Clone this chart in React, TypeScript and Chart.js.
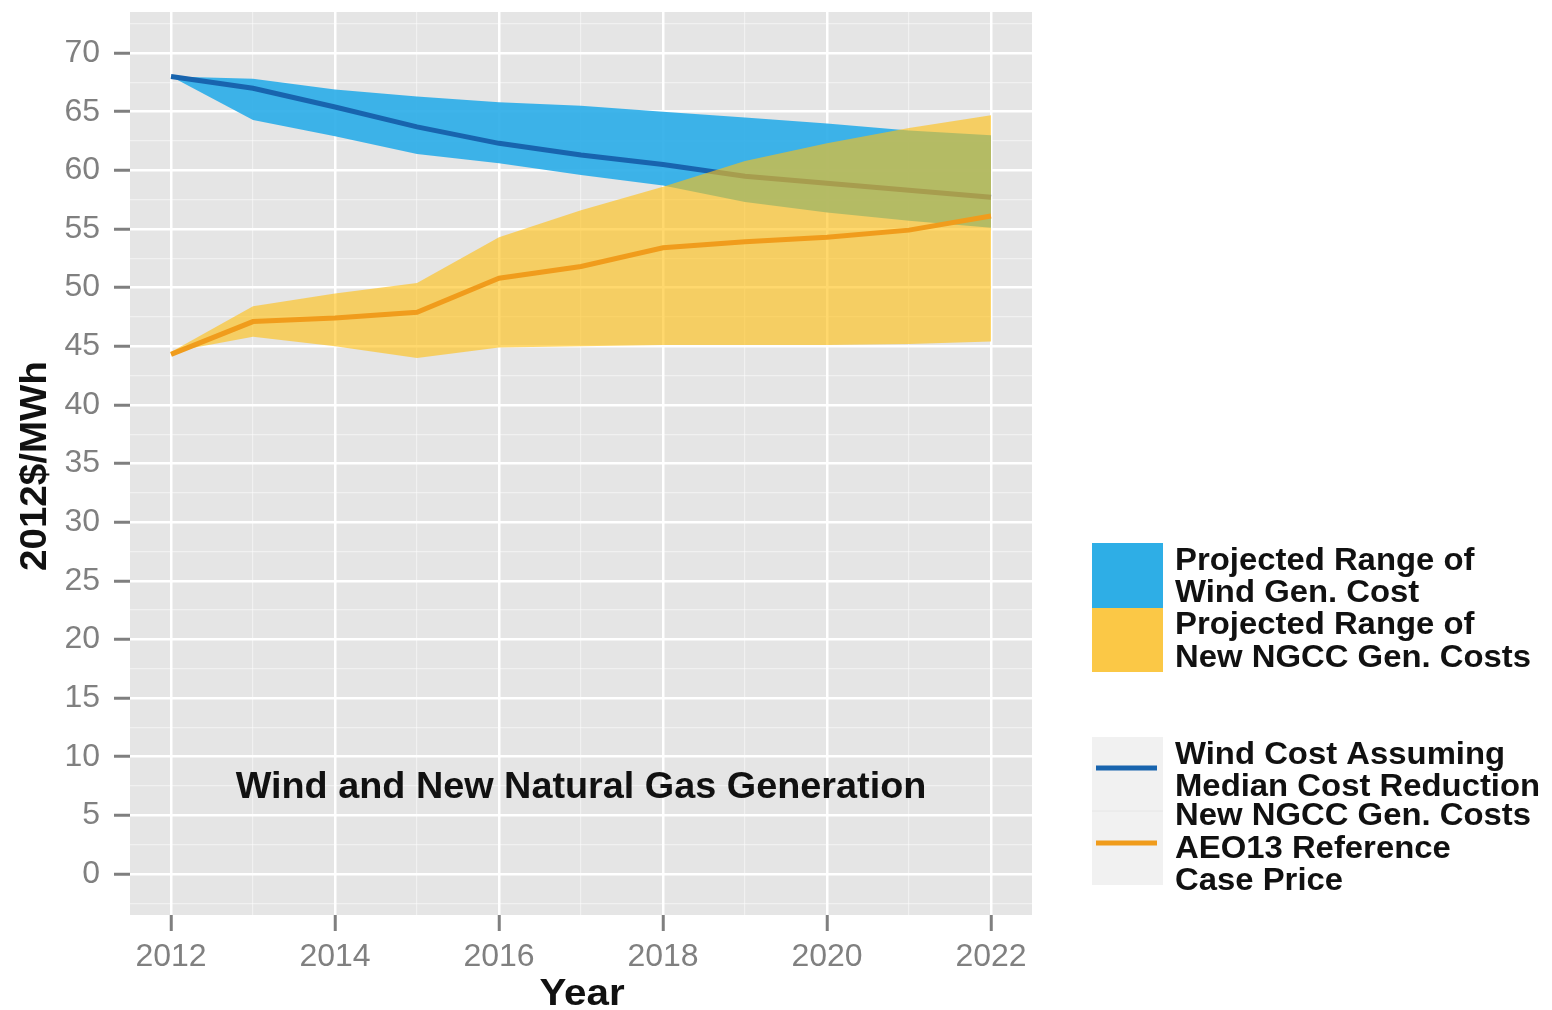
import React, { useEffect, useRef } from "react";
import { Chart, registerables } from "chart.js";

Chart.register(...registerables);

// ---- data ----
const years = [2012, 2013, 2014, 2015, 2016, 2017, 2018, 2019, 2020, 2021, 2022];
const windHigh = [68.0, 67.8, 66.9, 66.3, 65.8, 65.5, 65.0, 64.5, 64.0, 63.4, 63.0];
const windLow = [68.0, 64.3, 62.9, 61.4, 60.6, 59.6, 58.7, 57.3, 56.4, 55.7, 55.1];
const windMedian = [68.0, 67.0, 65.4, 63.7, 62.3, 61.3, 60.5, 59.5, 58.9, 58.3, 57.7];
const ngccHigh = [44.5, 48.4, 49.5, 50.4, 54.3, 56.6, 58.6, 60.8, 62.3, 63.6, 64.7];
const ngccLow = [44.5, 45.8, 45.0, 44.0, 44.9, 45.0, 45.1, 45.1, 45.1, 45.2, 45.4];
const ngccRef = [44.3, 47.1, 47.4, 47.9, 50.8, 51.8, 53.4, 53.9, 54.3, 54.9, 56.1];

const yMajorTicks = [0, 5, 10, 15, 20, 25, 30, 35, 40, 45, 50, 55, 60, 65, 70];
const yMinorTicks = [-2.5, 2.5, 7.5, 12.5, 17.5, 22.5, 27.5, 32.5, 37.5, 42.5, 47.5, 52.5, 57.5, 62.5, 67.5, 72.5];
const xMajorTicks = [2012, 2014, 2016, 2018, 2020, 2022];
const xMinorTicks = [2013, 2015, 2017, 2019, 2021];

const xTitle = "Year";
const yTitle = "2012$/MWh";
const annotationText = "Wind and New Natural Gas Generation";
const annotationX = 2017;
const annotationY = 7.3;

const rangeLegend = [
  ["Projected Range of", "Wind Gen. Cost"],
  ["Projected Range of", "New NGCC Gen. Costs"],
];
const lineLegend = [
  ["Wind Cost Assuming", "Median Cost Reduction"],
  ["New NGCC Gen. Costs", "AEO13 Reference", "Case Price"],
];

// ---- styles ----
const BLUE_BAND = "rgba(46,174,232,0.92)";
const YELLOW_BAND = "rgba(255,192,20,0.62)";
const BLUE_LINE = "#1864ae";
const ORANGE_LINE = "#f09c1c";
const PANEL = "#e5e5e5";
const FONT = '"Liberation Sans", Arial, Helvetica, sans-serif';

const pts = (arr: number[]) => years.map((x, i) => ({ x, y: arr[i] }));

function stretchedText(ctx: CanvasRenderingContext2D, text: string, x: number, y: number, sx: number) {
  ctx.save();
  ctx.translate(x, y);
  ctx.scale(sx, 1);
  ctx.fillText(text, 0, 0);
  ctx.restore();
}

export default function App() {
  const ref = useRef<HTMLCanvasElement | null>(null);

  useEffect(() => {
    if (!ref.current) return;
    const yMajorSet = new Set(yMajorTicks);
    const xMajorSet = new Set(xMajorTicks);

    const decor = {
      id: "decor",
      beforeDraw(chart: any) {
        const { ctx, chartArea: a } = chart;
        ctx.save();
        ctx.fillStyle = "#ffffff";
        ctx.fillRect(0, 0, chart.width, chart.height);
        ctx.fillStyle = PANEL;
        ctx.fillRect(a.left, a.top, a.right - a.left, a.bottom - a.top);
        ctx.restore();
      },
      afterDatasetsDraw(chart: any) {
        const { ctx, scales } = chart;
        ctx.save();
        ctx.fillStyle = "#111111";
        ctx.font = `bold 36px ${FONT}`;
        ctx.textAlign = "center";
        ctx.textBaseline = "middle";
        stretchedText(
          ctx,
          annotationText,
          scales.x.getPixelForValue(annotationX),
          scales.y.getPixelForValue(annotationY),
          1.05
        );
        ctx.restore();
      },
      afterDraw(chart: any) {
        const { ctx } = chart;
        ctx.save();
        ctx.fillStyle = "#111111";
        ctx.font = `bold 36px ${FONT}`;
        ctx.textAlign = "center";
        ctx.textBaseline = "alphabetic";
        stretchedText(ctx, xTitle, 582, 1005, 1.12);
        ctx.save();
        ctx.translate(46, 466);
        ctx.rotate(-Math.PI / 2);
        ctx.scale(1.07, 1);
        ctx.fillText(yTitle, 0, 0);
        ctx.restore();

        // legend 1: ranges
        ctx.fillStyle = "#2eaee6";
        ctx.fillRect(1092, 543, 71, 65);
        ctx.fillStyle = "#fbc846";
        ctx.fillRect(1092, 608, 71, 64);
        ctx.fillStyle = "#111111";
        ctx.font = `bold 31px ${FONT}`;
        ctx.textAlign = "left";
        const base1 = [570, 602, 634, 667];
        const lines1 = [...rangeLegend[0], ...rangeLegend[1]];
        lines1.forEach((t, i) => stretchedText(ctx, t, 1175, base1[i], 1.06));

        // legend 2: lines
        ctx.fillStyle = "#f1f1f1";
        ctx.fillRect(1092, 737, 71, 148);
        ctx.strokeStyle = "#e6e6e6";
        ctx.lineWidth = 1;
        ctx.beginPath();
        ctx.moveTo(1092, 811);
        ctx.lineTo(1163, 811);
        ctx.stroke();
        ctx.lineWidth = 5;
        ctx.strokeStyle = BLUE_LINE;
        ctx.beginPath();
        ctx.moveTo(1096, 768);
        ctx.lineTo(1157, 768);
        ctx.stroke();
        ctx.strokeStyle = ORANGE_LINE;
        ctx.beginPath();
        ctx.moveTo(1096, 843);
        ctx.lineTo(1157, 843);
        ctx.stroke();
        ctx.fillStyle = "#111111";
        const base2 = [764, 796, 825, 858, 890];
        const lines2 = [...lineLegend[0], ...lineLegend[1]];
        lines2.forEach((t, i) => stretchedText(ctx, t, 1175, base2[i], 1.06));
        ctx.restore();
      },
    };

    const chart = new Chart(ref.current, {
      type: "line",
      data: {
        datasets: [
          {
            label: "windHigh",
            data: pts(windHigh),
            borderWidth: 0,
            pointRadius: 0,
            backgroundColor: BLUE_BAND,
            fill: 1,
            order: 6,
          },
          {
            label: "windLow",
            data: pts(windLow),
            borderWidth: 0,
            pointRadius: 0,
            fill: false,
            order: 6,
          },
          {
            label: "windMedian",
            data: pts(windMedian),
            borderColor: BLUE_LINE,
            borderWidth: 5,
            pointRadius: 0,
            fill: false,
            order: 5,
          },
          {
            label: "ngccHigh",
            data: pts(ngccHigh),
            borderWidth: 0,
            pointRadius: 0,
            backgroundColor: YELLOW_BAND,
            fill: 4,
            order: 3,
          },
          {
            label: "ngccLow",
            data: pts(ngccLow),
            borderWidth: 0,
            pointRadius: 0,
            fill: false,
            order: 3,
          },
          {
            label: "ngccRef",
            data: pts(ngccRef),
            borderColor: ORANGE_LINE,
            borderWidth: 5,
            pointRadius: 0,
            fill: false,
            order: 1,
          },
        ],
      },
      options: {
        animation: false,
        responsive: false,
        devicePixelRatio: 1,
        layout: { padding: { left: 0, top: 12, right: 520, bottom: 0 } },
        plugins: { legend: { display: false }, tooltip: { enabled: false } },
        elements: { line: { tension: 0 } },
        scales: {
          x: {
            type: "linear",
            min: 2011.5,
            max: 2022.5,
            afterFit: (s: any) => {
              s.height = 95;
              s.paddingLeft = 0;
              s.paddingRight = 0;
            },
            afterBuildTicks: (s: any) => {
              s.ticks = [...xMajorTicks, ...xMinorTicks]
                .sort((a, b) => a - b)
                .map((v) => ({ value: v }));
            },
            border: { display: false },
            grid: {
              color: (c: any) => (xMajorSet.has(c.tick?.value) ? "#ffffff" : "rgba(255,255,255,0.45)"),
              lineWidth: (c: any) => (xMajorSet.has(c.tick?.value) ? 2.5 : 1.2),
              tickColor: (c: any) => (xMajorSet.has(c.tick?.value) ? "#7f7f7f" : "rgba(0,0,0,0)"),
              tickLength: 16,
              tickWidth: 3,
              drawTicks: true,
            },
            ticks: {
              autoSkip: false,
              maxRotation: 0,
              padding: 7,
              color: "#808080",
              font: { family: FONT, size: 32 },
              callback: (v: any) => (xMajorSet.has(v) ? String(v) : ""),
            },
          },
          y: {
            type: "linear",
            min: -3.5,
            max: 73.5,
            afterFit: (s: any) => {
              s.width = 130;
              s.paddingTop = 0;
              s.paddingBottom = 0;
            },
            afterBuildTicks: (s: any) => {
              s.ticks = [...yMajorTicks, ...yMinorTicks]
                .sort((a, b) => a - b)
                .map((v) => ({ value: v }));
            },
            border: { display: false },
            grid: {
              color: (c: any) => (yMajorSet.has(c.tick?.value) ? "#ffffff" : "rgba(255,255,255,0.45)"),
              lineWidth: (c: any) => (yMajorSet.has(c.tick?.value) ? 2.5 : 1.2),
              tickColor: (c: any) => (yMajorSet.has(c.tick?.value) ? "#7f7f7f" : "rgba(0,0,0,0)"),
              tickLength: 16,
              tickWidth: 3,
              drawTicks: true,
            },
            ticks: {
              autoSkip: false,
              padding: 14,
              color: "#808080",
              font: { family: FONT, size: 32 },
              callback: (v: any) => (yMajorSet.has(v) ? String(v) : ""),
            },
          },
        },
      },
      plugins: [decor],
    } as any);

    return () => chart.destroy();
  }, []);

  return (
    <div style={{ position: "fixed", left: 0, top: 0, width: 1552, height: 1010, background: "#fff" }}>
      <canvas ref={ref} width={1552} height={1010} style={{ display: "block" }} />
    </div>
  );
}
